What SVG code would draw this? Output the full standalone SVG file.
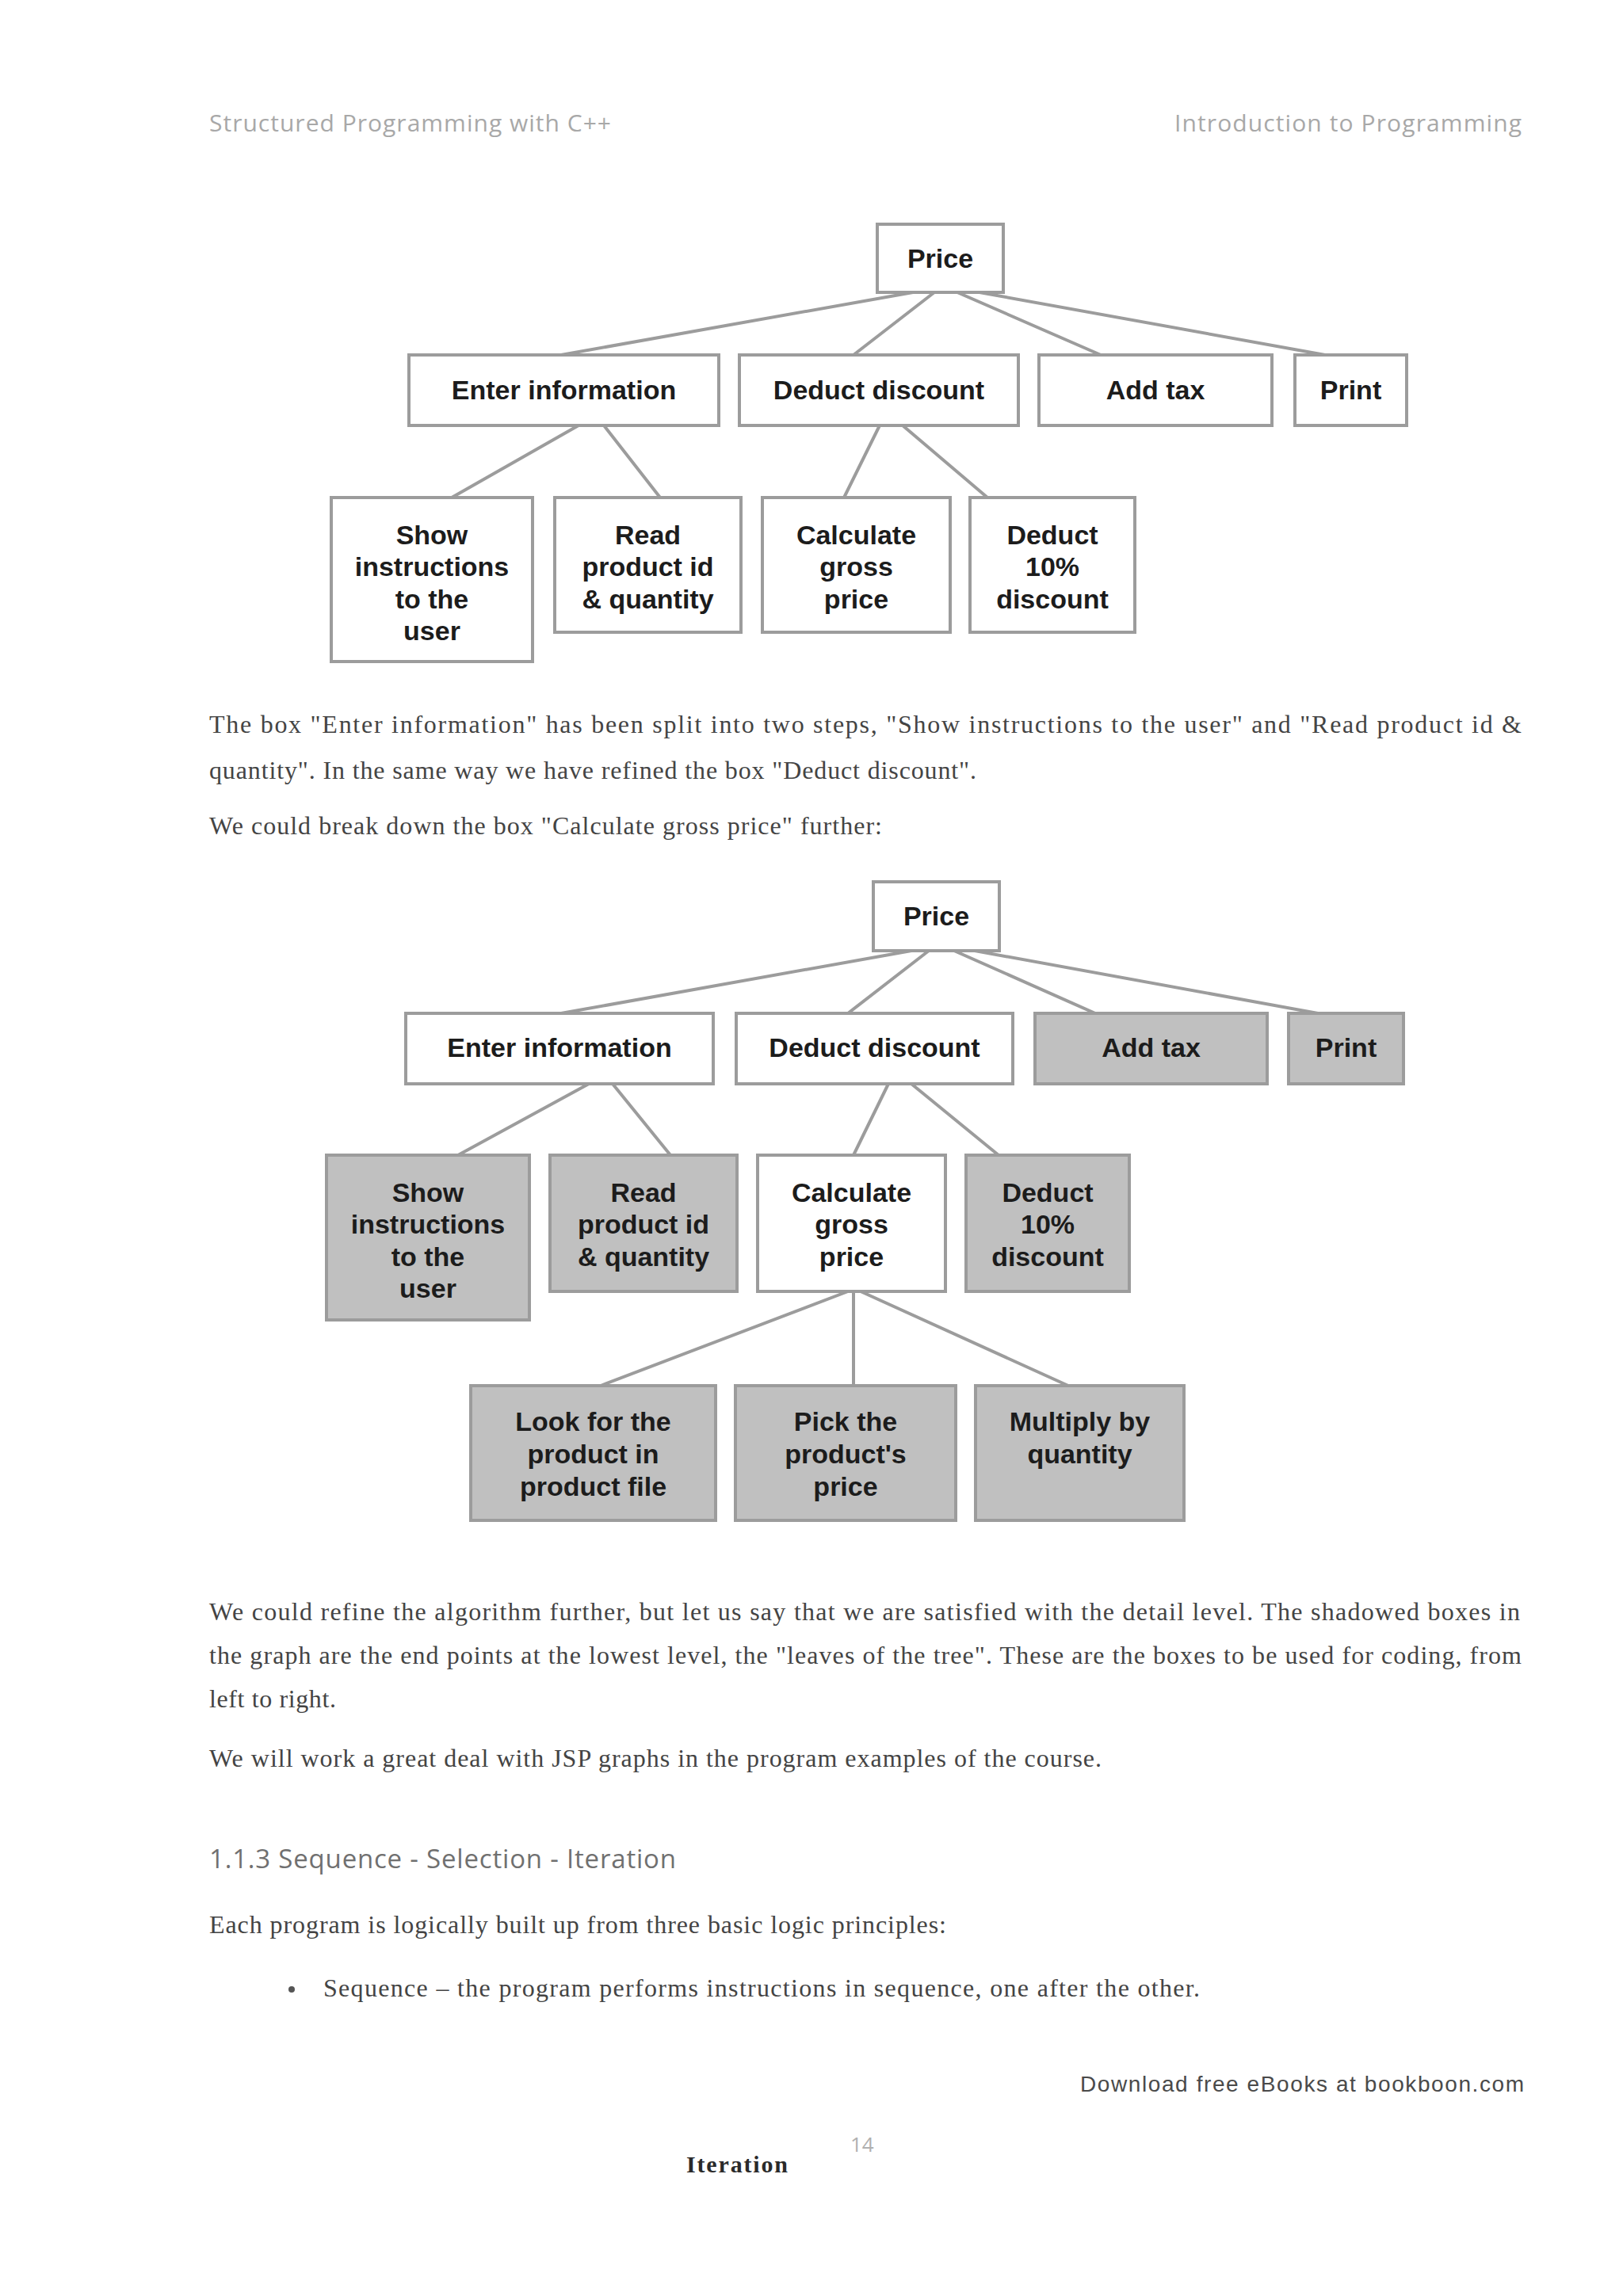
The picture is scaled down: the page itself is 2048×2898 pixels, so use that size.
<svg xmlns="http://www.w3.org/2000/svg" width="2048" height="2898" viewBox="0 0 2048 2898">
<style>
.bg{fill:#ffffff}
.box{fill:#ffffff;stroke:#9c9c9c;stroke-width:4}
.box.shade{fill:#c0c0c0}
.lbl{font-family:"Liberation Sans",Arial,sans-serif;font-weight:bold;font-size:34px;fill:#1c1c1c;text-anchor:middle}
.conn line{stroke:#9c9c9c;stroke-width:4;stroke-linecap:round}
.hdr{font-family:"Open Sans","Liberation Sans",sans-serif;font-size:30px;fill:#a8a8a8}
.body{font-family:"Liberation Serif","Times New Roman",serif;font-size:32px;fill:#444444}
.h3{font-family:"Open Sans","Liberation Sans",sans-serif;font-size:33px;fill:#707070}
.foot{font-family:"Liberation Sans",Arial,sans-serif;font-size:28px;fill:#4a4a4a}
.pg{font-family:"Open Sans","Liberation Sans",sans-serif;font-size:26px;fill:#b0b0b0}
.iter{font-family:"Liberation Serif","Times New Roman",serif;font-weight:bold;font-size:30px;fill:#2a2a2a}
</style>
<rect class="bg" x="0" y="0" width="2048" height="2898"/>

<g id="page-header">
<text class="hdr" x="264" y="166" textLength="507">Structured Programming with C++</text>
<text class="hdr" x="1482" y="166" textLength="438">Introduction to Programming</text>
</g>

<!-- Diagram 1 connectors -->
<g id="d1-connectors" class="conn">
<line x1="1152" y1="369" x2="708" y2="448"/>
<line x1="1179" y1="369" x2="1077" y2="448"/>
<line x1="1208" y1="369" x2="1389" y2="448"/>
<line x1="1236" y1="369" x2="1672" y2="448"/>
<line x1="730" y1="537" x2="570" y2="628"/>
<line x1="762" y1="537" x2="833" y2="628"/>
<line x1="1110" y1="537" x2="1065" y2="628"/>
<line x1="1139" y1="537" x2="1246" y2="628"/>
</g>

<g id="d1-price"><rect class="box" x="1107" y="283" width="159" height="86"/><text class="lbl" x="1186.5" y="338">Price</text></g>
<g id="d1-enter"><rect class="box" x="516" y="448" width="391" height="89"/><text class="lbl" x="711.5" y="504">Enter information</text></g>
<g id="d1-deduct"><rect class="box" x="933" y="448" width="352" height="89"/><text class="lbl" x="1109" y="504">Deduct discount</text></g>
<g id="d1-addtax"><rect class="box" x="1311" y="448" width="294" height="89"/><text class="lbl" x="1458" y="504">Add tax</text></g>
<g id="d1-print"><rect class="box" x="1634" y="448" width="141" height="89"/><text class="lbl" x="1704.5" y="504">Print</text></g>
<g id="d1-show"><rect class="box" x="418" y="628" width="254" height="207"/><text class="lbl" x="545" y="687">Show</text><text class="lbl" x="545" y="727">instructions</text><text class="lbl" x="545" y="768">to the</text><text class="lbl" x="545" y="808">user</text></g>
<g id="d1-read"><rect class="box" x="700" y="628" width="235" height="170"/><text class="lbl" x="817.5" y="687">Read</text><text class="lbl" x="817.5" y="727">product id</text><text class="lbl" x="817.5" y="768">&amp; quantity</text></g>
<g id="d1-calc"><rect class="box" x="962" y="628" width="237" height="170"/><text class="lbl" x="1080.5" y="687">Calculate</text><text class="lbl" x="1080.5" y="727">gross</text><text class="lbl" x="1080.5" y="768">price</text></g>
<g id="d1-ded10"><rect class="box" x="1224" y="628" width="208" height="170"/><text class="lbl" x="1328" y="687">Deduct</text><text class="lbl" x="1328" y="727">10%</text><text class="lbl" x="1328" y="768">discount</text></g>

<g id="para1">
<text class="body" x="264" y="925" textLength="1656">The box "Enter information" has been split into two steps,  "Show instructions to the user" and "Read product id &amp;</text>
<text class="body" x="264" y="983" textLength="968">quantity". In the same way we have refined the box "Deduct discount".</text>
<text class="body" x="264" y="1053" textLength="849">We could break down the box "Calculate gross price" further:</text>
</g>

<!-- Diagram 2 connectors -->
<g id="d2-connectors" class="conn">
<line x1="1150" y1="1200" x2="708" y2="1279"/>
<line x1="1172" y1="1200" x2="1070" y2="1279"/>
<line x1="1204" y1="1200" x2="1382" y2="1279"/>
<line x1="1230" y1="1200" x2="1663" y2="1279"/>
<line x1="743" y1="1368" x2="578" y2="1458"/>
<line x1="773" y1="1368" x2="846" y2="1458"/>
<line x1="1121" y1="1368" x2="1077" y2="1458"/>
<line x1="1150" y1="1368" x2="1260" y2="1458"/>
<line x1="1070" y1="1630" x2="758" y2="1749"/>
<line x1="1077" y1="1630" x2="1077" y2="1749"/>
<line x1="1086" y1="1630" x2="1348" y2="1749"/>
</g>

<g id="d2-price"><rect class="box" x="1102" y="1113" width="159" height="87"/><text class="lbl" x="1181.5" y="1168">Price</text></g>
<g id="d2-enter"><rect class="box" x="512" y="1279" width="388" height="89"/><text class="lbl" x="706" y="1334">Enter information</text></g>
<g id="d2-deduct"><rect class="box" x="929" y="1279" width="349" height="89"/><text class="lbl" x="1103.5" y="1334">Deduct discount</text></g>
<g id="d2-addtax"><rect class="box shade" x="1306" y="1279" width="293" height="89"/><text class="lbl" x="1452.5" y="1334">Add tax</text></g>
<g id="d2-print"><rect class="box shade" x="1626" y="1279" width="145" height="89"/><text class="lbl" x="1698.5" y="1334">Print</text></g>
<g id="d2-show"><rect class="box shade" x="412" y="1458" width="256" height="208"/><text class="lbl" x="540" y="1517">Show</text><text class="lbl" x="540" y="1557">instructions</text><text class="lbl" x="540" y="1598">to the</text><text class="lbl" x="540" y="1638">user</text></g>
<g id="d2-read"><rect class="box shade" x="694" y="1458" width="236" height="172"/><text class="lbl" x="812" y="1517">Read</text><text class="lbl" x="812" y="1557">product id</text><text class="lbl" x="812" y="1598">&amp; quantity</text></g>
<g id="d2-calc"><rect class="box" x="956" y="1458" width="237" height="172"/><text class="lbl" x="1074.5" y="1517">Calculate</text><text class="lbl" x="1074.5" y="1557">gross</text><text class="lbl" x="1074.5" y="1598">price</text></g>
<g id="d2-ded10"><rect class="box shade" x="1219" y="1458" width="206" height="172"/><text class="lbl" x="1322" y="1517">Deduct</text><text class="lbl" x="1322" y="1557">10%</text><text class="lbl" x="1322" y="1598">discount</text></g>
<g id="d2-look"><rect class="box shade" x="594" y="1749" width="309" height="170"/><text class="lbl" x="748.5" y="1806">Look for the</text><text class="lbl" x="748.5" y="1847">product in</text><text class="lbl" x="748.5" y="1888">product file</text></g>
<g id="d2-pick"><rect class="box shade" x="928" y="1749" width="278" height="170"/><text class="lbl" x="1067" y="1806">Pick the</text><text class="lbl" x="1067" y="1847">product's</text><text class="lbl" x="1067" y="1888">price</text></g>
<g id="d2-mult"><rect class="box shade" x="1231" y="1749" width="263" height="170"/><text class="lbl" x="1362.5" y="1806">Multiply by</text><text class="lbl" x="1362.5" y="1847">quantity</text></g>

<g id="para2">
<text class="body" x="264" y="2045" textLength="1654">We could refine the algorithm further, but let us say that we are satisfied with the detail level. The shadowed boxes in</text>
<text class="body" x="264" y="2100" textLength="1656">the graph are the end points at the lowest level, the "leaves of the tree". These are the boxes to be used for coding, from</text>
<text class="body" x="264" y="2155" textLength="160">left to right.</text>
<text class="body" x="264" y="2230" textLength="1126">We will work a great deal with JSP graphs in the program examples of the course.</text>
</g>

<g id="section">
<text class="h3" x="264" y="2358" textLength="589">1.1.3  Sequence - Selection - Iteration</text>
<text class="body" x="264" y="2440" textLength="930">Each program is logically built up from three basic logic principles:</text>
<circle cx="368" cy="2511" r="4" fill="#555555"/>
<text class="body" x="408" y="2520" textLength="1106">Sequence – the program performs instructions in sequence, one after the other.</text>
</g>

<g id="page-footer">
<text class="foot" x="1363" y="2640" textLength="560">Download free eBooks at bookboon.com</text>
<text class="pg" x="1073" y="2716">14</text>
<text class="iter" x="866" y="2742" textLength="128">Iteration</text>
</g>
</svg>
